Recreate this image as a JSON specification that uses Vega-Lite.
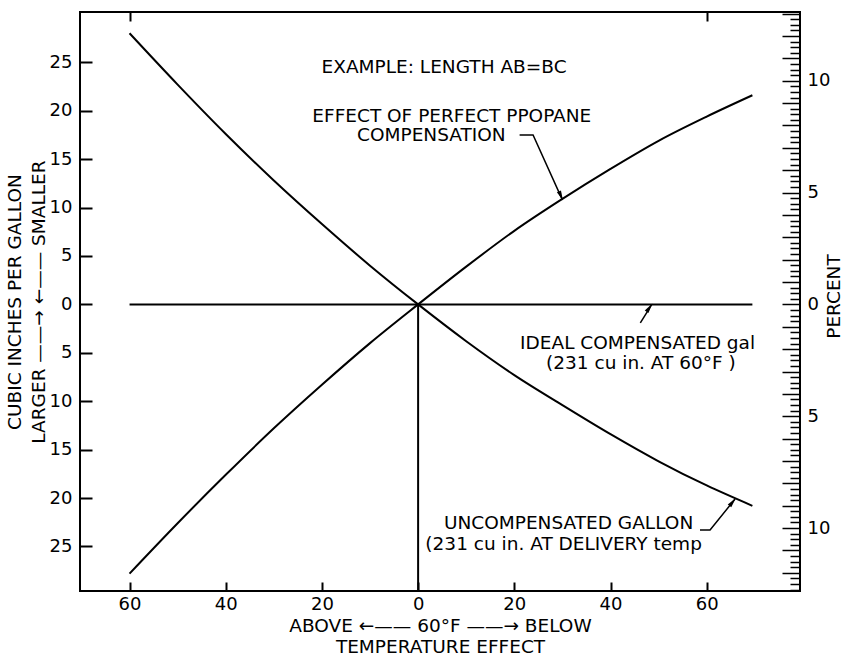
{
  "$schema": "https://vega.github.io/schema/vega-lite/v6.json",
  "width": 720,
  "height": 579,
  "autosize": "none",
  "padding": {"left": 80, "top": 12, "right": 44, "bottom": 67},
  "background": "white",
  "config": {
    "view": {"stroke": "black", "strokeWidth": 2},
    "font": "DejaVu Sans",
    "axis": {
      "grid": false,
      "domain": false,
      "tickColor": "black",
      "tickWidth": 2,
      "labelColor": "black",
      "titleColor": "black",
      "labelFont": "DejaVu Sans",
      "titleFont": "DejaVu Sans",
      "titleFontWeight": "normal",
      "labelFontSize": 18,
      "titleFontSize": 18.5,
      "titleLineHeight": 21
    }
  },
  "resolve": {"scale": {"x": "independent", "y": "independent"}},
  "layer": [
    {
      "encoding": {
        "x": {
          "field": "x",
          "type": "quantitative",
          "scale": {"domain": [-70.3, 79.4], "nice": false, "zero": false},
          "axis": {
            "values": [-60, -40, -20, 0, 20, 40, 60],
            "labelExpr": "format(abs(datum.value), 'd')",
            "offset": -9,
            "tickSize": 9,
            "labelPadding": 4,
            "title": ["ABOVE ←—— 60°F ——→ BELOW", "TEMPERATURE EFFECT"],
            "titlePadding": 3
          }
        },
        "y": {
          "field": "y",
          "type": "quantitative",
          "scale": {"domain": [-29.6, 30.2], "nice": false, "zero": false},
          "axis": {
            "values": [-25, -20, -15, -10, -5, 0, 5, 10, 15, 20, 25],
            "labelExpr": "format(abs(datum.value), 'd')",
            "offset": -12,
            "tickSize": 12,
            "labelPadding": 8,
            "title": ["CUBIC INCHES PER GALLON", "LARGER ——→    ←—— SMALLER"],
            "titleLineHeight": 24,
            "titlePadding": 1
          }
        }
      },
      "layer": [
        {
          "data": {
            "values": [
              {"s": "uncomp", "x": -60, "y": 28.0},
              {"s": "uncomp", "x": -50, "y": 22.7},
              {"s": "uncomp", "x": -40, "y": 17.6},
              {"s": "uncomp", "x": -30, "y": 12.8},
              {"s": "uncomp", "x": -20, "y": 8.3},
              {"s": "uncomp", "x": -10, "y": 4.0},
              {"s": "uncomp", "x": 0, "y": 0},
              {"s": "uncomp", "x": 10, "y": -3.8},
              {"s": "uncomp", "x": 20, "y": -7.3},
              {"s": "uncomp", "x": 30, "y": -10.4},
              {"s": "uncomp", "x": 40, "y": -13.4},
              {"s": "uncomp", "x": 50, "y": -16.2},
              {"s": "uncomp", "x": 60, "y": -18.7},
              {"s": "uncomp", "x": 69.5, "y": -20.8},
              {"s": "comp", "x": -60, "y": -27.8},
              {"s": "comp", "x": -50, "y": -22.6},
              {"s": "comp", "x": -40, "y": -17.6},
              {"s": "comp", "x": -30, "y": -12.8},
              {"s": "comp", "x": -20, "y": -8.3},
              {"s": "comp", "x": -10, "y": -4.0},
              {"s": "comp", "x": 0, "y": 0},
              {"s": "comp", "x": 10, "y": 3.9},
              {"s": "comp", "x": 20, "y": 7.6},
              {"s": "comp", "x": 30, "y": 10.9},
              {"s": "comp", "x": 40, "y": 14.0},
              {"s": "comp", "x": 50, "y": 16.9},
              {"s": "comp", "x": 60, "y": 19.4},
              {"s": "comp", "x": 69.5, "y": 21.6}
            ]
          },
          "mark": {"type": "line", "color": "black", "strokeWidth": 2, "interpolate": "monotone"},
          "encoding": {"detail": {"field": "s"}}
        },
        {
          "data": {
            "values": [
              {"x": -60, "x2": 69.5, "y": 0, "y2": 0},
              {"x": 0, "x2": 0, "y": 0, "y2": -29.6}
            ]
          },
          "mark": {"type": "rule", "color": "black", "strokeWidth": 2},
          "encoding": {"x2": {"field": "x2"}, "y2": {"field": "y2"}}
        },
        {
          "data": {
            "values": [
              {"a": "comp", "o": 1, "x": 21.1, "y": 17.5},
              {"a": "comp", "o": 2, "x": 23.9, "y": 17.5},
              {"a": "comp", "o": 3, "x": 30.0, "y": 10.8},
              {"a": "ideal", "o": 1, "x": 46.2, "y": -1.9},
              {"a": "ideal", "o": 2, "x": 48.6, "y": 0},
              {"a": "unc", "o": 1, "x": 58.6, "y": -23.3},
              {"a": "unc", "o": 2, "x": 60.7, "y": -23.3},
              {"a": "unc", "o": 3, "x": 65.9, "y": -20.1}
            ]
          },
          "mark": {"type": "line", "color": "black", "strokeWidth": 1.5},
          "encoding": {"detail": {"field": "a"}, "order": {"field": "o"}}
        },
        {
          "data": {"values": [{"x": 29.7, "y": 11.2}]},
          "mark": {"type": "point", "shape": "M0,-1L0.45,1L-0.45,1Z", "filled": true, "fill": "black", "stroke": null, "opacity": 1, "size": 100, "angle": 156},
          "encoding": {}
        },
        {
          "data": {"values": [{"x": 48.1, "y": -0.34}]},
          "mark": {"type": "point", "shape": "M0,-1L0.45,1L-0.45,1Z", "filled": true, "fill": "black", "stroke": null, "opacity": 1, "size": 100, "angle": 35},
          "encoding": {}
        },
        {
          "data": {"values": [{"x": 65.4, "y": -20.4}]},
          "mark": {"type": "point", "shape": "M0,-1L0.45,1L-0.45,1Z", "filled": true, "fill": "black", "stroke": null, "opacity": 1, "size": 100, "angle": 39},
          "encoding": {}
        },
        {
          "data": {"values": [{"x": 5.4, "y": 24.5, "label": "EXAMPLE: LENGTH AB=BC"}]},
          "mark": {"type": "text", "align": "center", "baseline": "middle", "font": "DejaVu Sans", "fontSize": 18.5, "color": "black"},
          "encoding": {"text": {"field": "label"}}
        },
        {
          "data": {
            "values": [
              {"x": -22.0, "y": 19.5, "label": "EFFECT OF PERFECT PPOPANE"},
              {"x": -12.7, "y": 17.5, "label": "COMPENSATION"},
              {"x": 21.2, "y": -4.0, "label": "IDEAL COMPENSATED gal"},
              {"x": 26.6, "y": -6.1, "label": "(231 cu in. AT 60°F )"}
            ]
          },
          "mark": {"type": "text", "align": "left", "baseline": "middle", "font": "DejaVu Sans", "fontSize": 18.5, "color": "black"},
          "encoding": {"text": {"field": "label"}}
        },
        {
          "data": {
            "values": [
              {"x": 57.2, "y": -22.6, "label": "UNCOMPENSATED GALLON"},
              {"x": 59.0, "y": -24.7, "label": "(231 cu in. AT DELIVERY temp"}
            ]
          },
          "mark": {"type": "text", "align": "right", "baseline": "middle", "font": "DejaVu Sans", "fontSize": 18.5, "color": "black"},
          "encoding": {"text": {"field": "label"}}
        }
      ]
    },
    {
      "data": {"values": [{"t": 0, "p": 0}]},
      "mark": {"type": "point", "opacity": 0},
      "encoding": {
        "x": {
          "field": "t",
          "type": "quantitative",
          "scale": {"domain": [-70.3, 79.4], "nice": false, "zero": false},
          "axis": {"orient": "top", "values": [-60, 60], "labels": false, "offset": -9, "tickSize": 9, "title": null}
        },
        "y": {
          "field": "p",
          "type": "quantitative",
          "scale": {"domain": [-12.814, 13.074], "nice": false, "zero": false},
          "axis": {
            "orient": "right",
            "values": [-12, -11, -10, -9, -8, -7, -6, -5, -4, -3, -2, -1, 0, 1, 2, 3, 4, 5, 6, 7, 8, 9, 10, 11, 12, 13],
            "labelExpr": "datum.value % 5 == 0 ? format(abs(datum.value), 'd') : ''",
            "offset": -18,
            "tickSize": 18,
            "tickWidth": 1.5,
            "labelPadding": 7,
            "labelOverlap": false,
            "title": "PERCENT",
            "titleAngle": -90,
            "titleAlign": "center",
            "titleBaseline": "middle",
            "titleX": 51,
            "titleY": 284
          }
        }
      }
    },
    {
      "data": {"values": [{"t": 0, "p": 0}]},
      "mark": {"type": "point", "opacity": 0},
      "encoding": {
        "x": {
          "field": "t",
          "type": "quantitative",
          "scale": {"domain": [-70.3, 79.4], "nice": false, "zero": false},
          "axis": null
        },
        "y": {
          "field": "p",
          "type": "quantitative",
          "scale": {"domain": [-12.814, 13.074], "nice": false, "zero": false},
          "axis": {
            "orient": "right",
            "values": [-12.75, -12.5, -12.25, -11.75, -11.5, -11.25, -10.75, -10.5, -10.25, -9.75, -9.5, -9.25, -8.75, -8.5, -8.25, -7.75, -7.5, -7.25, -6.75, -6.5, -6.25, -5.75, -5.5, -5.25, -4.75, -4.5, -4.25, -3.75, -3.5, -3.25, -2.75, -2.5, -2.25, -1.75, -1.5, -1.25, -0.75, -0.5, -0.25, 0.25, 0.5, 0.75, 1.25, 1.5, 1.75, 2.25, 2.5, 2.75, 3.25, 3.5, 3.75, 4.25, 4.5, 4.75, 5.25, 5.5, 5.75, 6.25, 6.5, 6.75, 7.25, 7.5, 7.75, 8.25, 8.5, 8.75, 9.25, 9.5, 9.75, 10.25, 10.5, 10.75, 11.25, 11.5, 11.75, 12.25, 12.5, 12.75],
            "labels": false,
            "offset": -10,
            "tickSize": 10,
            "tickWidth": 1.5,
            "title": null
          }
        }
      }
    }
  ]
}
